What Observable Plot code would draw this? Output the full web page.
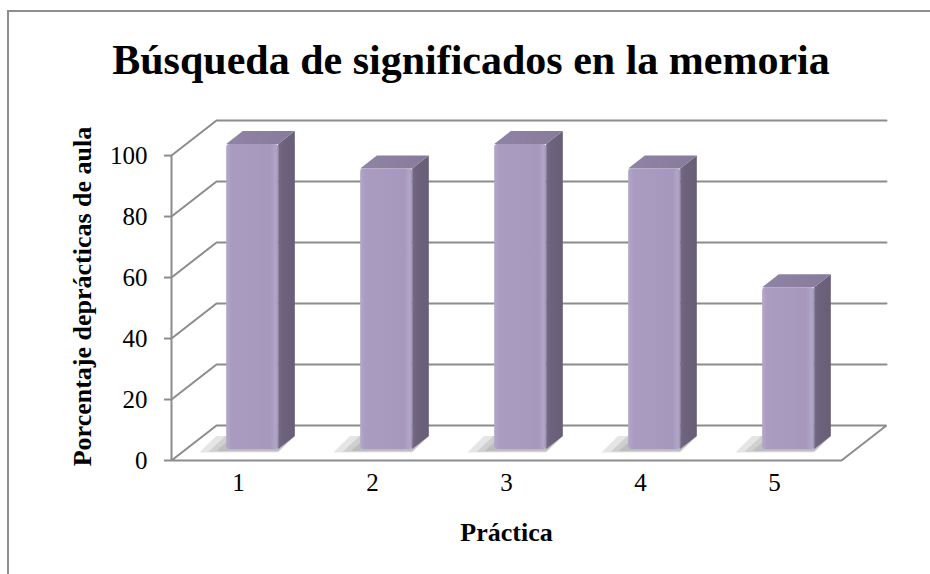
<!DOCTYPE html>
<html><head><meta charset="utf-8">
<script src="https://cdn.jsdelivr.net/npm/d3@7"></script>
<script src="https://cdn.jsdelivr.net/npm/@observablehq/plot@0.6"></script>
<style>
html,body{margin:0;padding:0;background:#fff;}
#wrap{position:relative;width:930px;height:574px;overflow:hidden;}
#border{position:absolute;left:7px;top:10px;width:1000px;height:1000px;border-left:2px solid #8e8e8e;border-top:2px solid #8e8e8e;}
#chart{position:absolute;left:0;top:0;}
</style></head><body>
<div id="wrap"><div id="border"></div><div id="chart"></div></div>
<script>
const categories = ["1", "2", "3", "4", "5"];
const values = [100, 92, 100, 92, 53];
const yTicks = [0, 20, 40, 60, 80, 100];
const titleText = "Búsqueda de significados en la memoria";
const yTitle = "Porcentaje deprácticas de aula";
const xTitle = "Práctica";

// 3-D geometry, in data units
const DX = 0.336, DY = 11.5;        // floor depth
const BW = 0.388, BF = 0.315, BD = 0.37; // bar width, front offset, bar depth (fractions of depth)
const TICK = 0.052;
const n = categories.length;
const yMax = d3.max(yTicks);

const bars = categories.map((c, i) => {
  const x1 = i + 0.5 - BW / 2 + BF * DX;
  return {id: c, x1, x2: x1 + BW, y1: BF * DY, y2: values[i] + BF * DY};
});
const sidePts = bars.flatMap(b => [
  {id: b.id, x: b.x2, lo: b.y1, hi: b.y2},
  {id: b.id, x: b.x2 + BD * DX, lo: b.y1 + BD * DY, hi: b.y2 + BD * DY}
]);
const topPts = bars.flatMap(b => [
  {id: b.id, y: b.y2, l: b.x1, r: b.x2},
  {id: b.id, y: b.y2 + BD * DY, l: b.x1 + BD * DX, r: b.x2 + BD * DX}
]);
// soft shadow: stacked translucent layers, shrinking toward the bar
const shadowLayers = [0.2, 0.13, 0.07];
const shadowPts = shadowLayers.flatMap((s, k) => bars.flatMap(b => [
  {id: b.id + "-" + k, y: b.y1 - 0.4 - s * 4, l: b.x1 - s, r: b.x2},
  {id: b.id + "-" + k, y: b.y1 + BD * DY, l: b.x1 - s + BD * DX, r: b.x2 + BD * DX}
]));
const gridPts = yTicks.flatMap(t => t === 0
  ? [{id: "floor", x: 0, y: 0}, {id: "floor", x: n, y: 0}, {id: "floor", x: n + DX, y: DY}, {id: "floor", x: DX, y: DY}, {id: "floor", x: 0, y: 0}]
  : [{id: "g" + t, x: 0, y: t}, {id: "g" + t, x: DX, y: t + DY}, {id: "g" + t, x: n + DX, y: t + DY}]);

const gridColor = "#8c8c8c";

const plot = Plot.plot({
  width: 930, height: 574,
  marginLeft: 171, marginRight: 44, marginTop: 120, marginBottom: 114,
  x: {domain: [0, n + DX], axis: null},
  y: {domain: [0, yMax + DY], axis: null},
  style: {fontFamily: "'Liberation Serif','Times New Roman',serif", background: "transparent", color: "black", overflow: "visible"},
  marks: [
    Plot.line(gridPts, {x: "x", y: "y", z: "id", stroke: gridColor, strokeWidth: 2, strokeLinejoin: "miter"}),
    Plot.ruleX([0], {x: d => d, y1: () => d3.min(yTicks), y2: () => yMax, stroke: gridColor, strokeWidth: 2}),
    Plot.ruleY(yTicks, {y: d => d, x1: () => -TICK, x2: () => 0, stroke: gridColor, strokeWidth: 2}),
    Plot.areaX(shadowPts, {y: "y", x1: "l", x2: "r", z: "id", fill: "#6e6e6e", fillOpacity: 0.18}),
    Plot.areaY(sidePts, {x: "x", y1: "lo", y2: "hi", z: "id", fill: "url(#sideGrad)"}),
    Plot.areaX(topPts, {y: "y", x1: "l", x2: "r", z: "id", fill: "url(#topGrad)"}),
    Plot.rect(bars, {x1: "x1", x2: "x2", y1: "y1", y2: "y2", fill: "url(#frontGrad)", rx: 3}),
    Plot.text(yTicks, {x: () => 0, y: d => d, text: d => String(d), textAnchor: "end", dx: -24, fontSize: 25, fill: "black"}),
    Plot.text(categories, {x: (d, i) => i + 0.5, y: () => 0, text: d => d, dy: 22, fontSize: 25, fill: "black"}),
    Plot.text([titleText], {frameAnchor: "top", textAnchor: "middle", lineAnchor: "middle", dx: -58, dy: -60, fontSize: 42, fontWeight: "bold", fill: "black", text: d => d}),
    Plot.text([yTitle], {frameAnchor: "left", textAnchor: "middle", lineAnchor: "middle", rotate: -90, dx: -89, dy: 6, fontSize: 26, fontWeight: "bold", fill: "black", text: d => d}),
    Plot.text([xTitle], {x: () => n / 2, frameAnchor: "bottom", textAnchor: "middle", lineAnchor: "middle", dy: 72, fontSize: 26, fontWeight: "bold", fill: "black", text: d => d})
  ]
});
const svg = plot.tagName.toLowerCase() === "svg" ? plot : plot.querySelector("svg");
svg.insertAdjacentHTML("afterbegin", `<defs>
<linearGradient id="frontGrad" x1="0" x2="1" y1="0" y2="0">
<stop offset="0" stop-color="#b3a7c9"/><stop offset="0.1" stop-color="#a99cc0"/><stop offset="0.85" stop-color="#a698bd"/><stop offset="0.96" stop-color="#b2a6c8"/><stop offset="1" stop-color="#9d90b3"/>
</linearGradient>
<linearGradient id="sideGrad" x1="0" x2="1" y1="0" y2="0">
<stop offset="0" stop-color="#746a86"/><stop offset="0.3" stop-color="#6c627c"/><stop offset="1" stop-color="#685e78"/>
</linearGradient>
<linearGradient id="topGrad" x1="0" x2="1" y1="0" y2="0">
<stop offset="0" stop-color="#8f84a5"/><stop offset="1" stop-color="#867b9b"/>
</linearGradient>
</defs>`);
document.getElementById("chart").appendChild(plot);
</script>
</body></html>
